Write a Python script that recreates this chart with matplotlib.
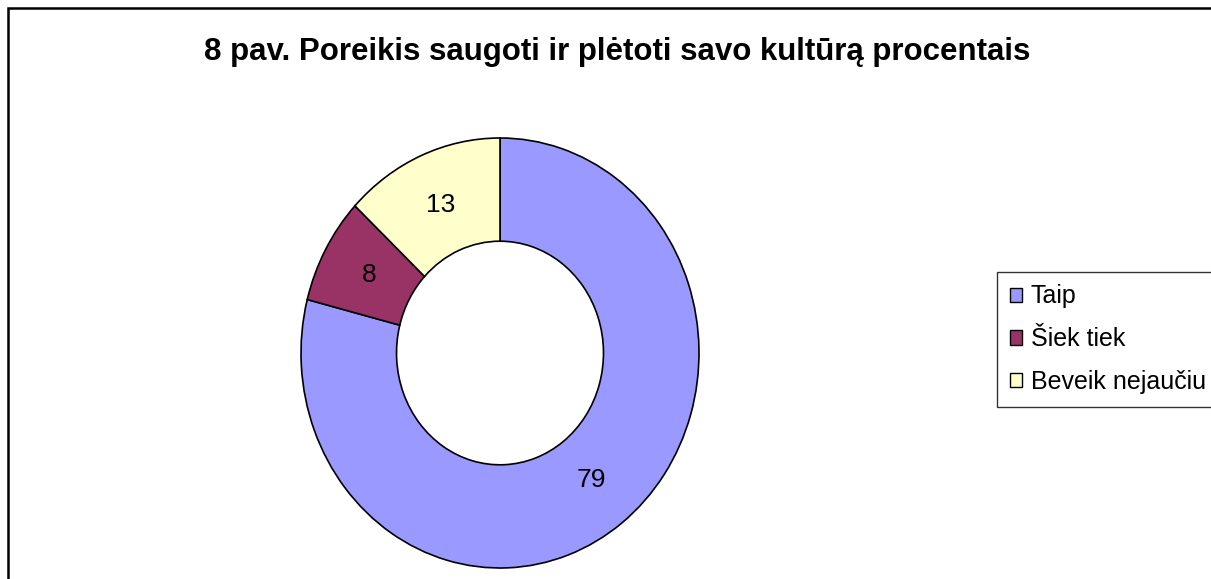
import matplotlib.pyplot as plt
from matplotlib.patches import Rectangle, Patch

labels = ['Taip', 'Šiek tiek', 'Beveik nejaučiu']
values = [79, 8, 13]
colors = ['#9999FF', '#993366', '#FFFFCC']
title = '8 pav. Poreikis saugoti ir plėtoti savo kultūrą procentais'

plt.rcParams['font.family'] = ['Liberation Sans', 'DejaVu Sans']

fig = plt.figure(figsize=(12.11, 5.79), dpi=100)

# outer frame (right and bottom edges fall outside the picture)
fig.patches.append(Rectangle((8 / 1211, -0.1), 1.2, 1.1 - 8 / 579,
                             transform=fig.transFigure, fill=False,
                             edgecolor='black', linewidth=1.8))

ax = fig.add_axes([301 / 1211, 11 / 579, 398 / 1211, 430 / 579])
wedges, texts, autotexts = ax.pie(
    values, colors=colors, startangle=90, counterclock=False,
    autopct=lambda p: f'{p:.0f}', pctdistance=0.75,
    wedgeprops=dict(width=0.48, edgecolor='black', linewidth=1.2),
    textprops=dict(fontsize=19, color='black'))
ax.set_aspect('auto')
ax.set_xlim(-1, 1)
ax.set_ylim(-1, 1)

fig.text(617 / 1211, 1 - 52 / 579, title, ha='center', va='center',
         fontsize=22.5, fontweight='bold')

handles = [Patch(facecolor=c, edgecolor='black', linewidth=1) for c in colors]
leg = fig.legend(handles, labels, loc='upper left',
                 bbox_to_anchor=(997 / 1211, 1 - 272 / 579),
                 fontsize=18, frameon=True, fancybox=False,
                 handlelength=0.5, handleheight=0.5, handletextpad=0.35,
                 labelspacing=0.75, borderpad=0.5, borderaxespad=0)
leg.get_frame().set_edgecolor('black')
leg.get_frame().set_linewidth(1)

fig.savefig('out.png', dpi=100)
